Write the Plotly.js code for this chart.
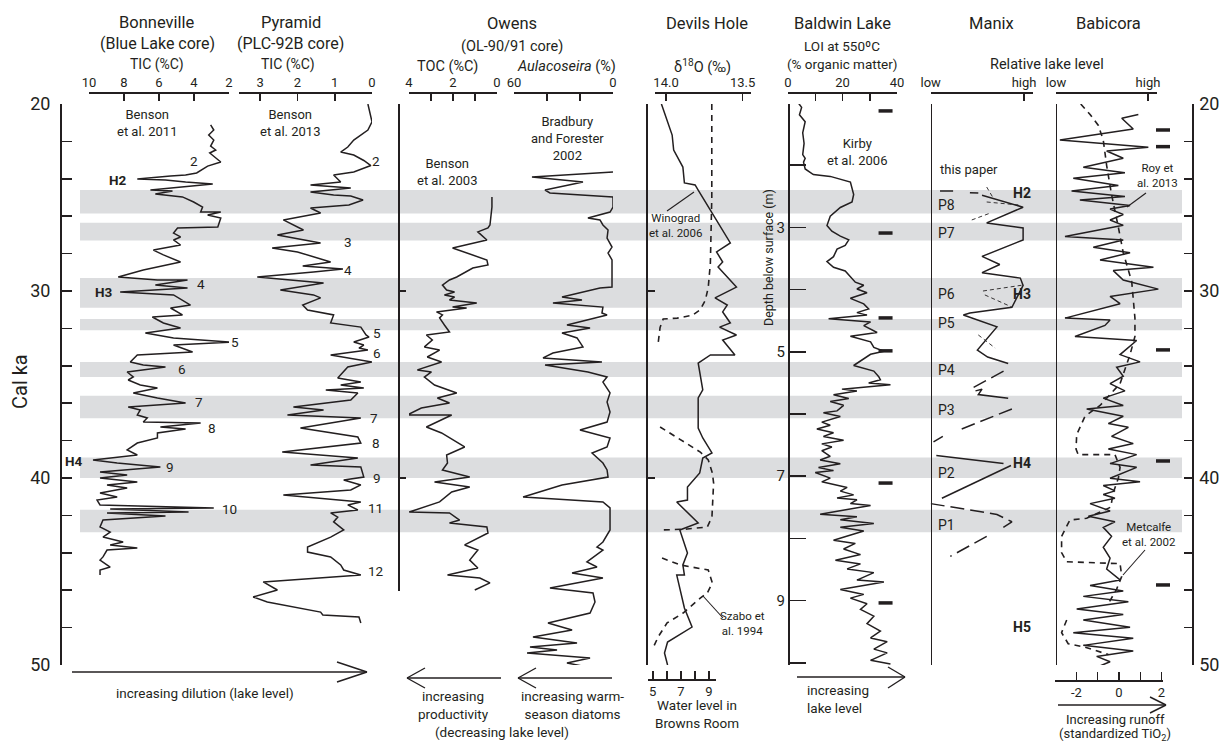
<!DOCTYPE html>
<html><head><meta charset="utf-8">
<script src="https://cdn.plot.ly/plotly-3.0.1.min.js"></script>
<style>html,body{margin:0;padding:0;background:#fff}#chart{width:1219px;height:743px}</style>
</head><body><div id="chart"></div>
<script>
// ---------------- DATA ----------------
const bandStartKa = [24.6, 26.35, 29.3, 31.5, 33.8, 35.6, 38.9, 41.7];
const bandEndKa   = [25.85, 27.3, 30.9, 32.1, 34.6, 36.8, 40.0, 42.9];

// Bonneville (Blue Lake core) TIC (%C)
const bonnevilleKa = [21.12,21.39,21.66,21.93,22.25,22.46,22.62,23.10,23.32,23.53,23.69,23.80,23.85,24.01,24.06,24.17,24.28,24.60,24.65,24.81,24.97,25.24,25.51,25.78,25.78,25.94,26.10,26.58,26.63,26.90,27.11,27.27,27.54,27.81,28.07,28.45,28.88,29.25,29.41,29.41,29.68,29.84,30.05,30.21,30.75,30.91,31.28,31.39,31.71,31.98,32.25,32.51,32.73,32.89,33.26,33.42,33.80,33.96,34.06,34.33,34.60,34.76,35.03,35.19,35.45,35.72,35.99,36.20,36.36,36.63,36.79,37.01,37.06,37.27,37.38,37.59,37.86,38.13,38.50,38.77,39.04,39.20,39.41,39.68,39.84,40.00,40.21,40.37,40.53,40.80,41.02,41.18,41.44,41.60,41.66,41.82,41.87,42.03,42.25,42.62,42.89,43.16,43.42,43.58,43.74,43.85,44.22,44.39,44.76,44.92,45.19];
const bonnevilleTIC = [3.05,2.87,3.16,2.87,3.05,2.76,3.10,2.47,3.22,3.56,3.85,4.48,5.34,7.24,5.63,4.48,2.93,6.49,5.23,6.21,4.66,4.02,3.51,3.62,2.47,3.22,2.47,2.64,4.94,5.17,4.77,5.17,4.77,6.32,5.75,4.77,6.90,8.33,6.09,4.37,6.21,4.37,8.22,5.17,4.20,5.34,4.66,6.38,5.75,4.77,6.78,5.17,1.90,5.17,4.08,7.24,7.64,6.90,5.63,7.82,7.47,7.76,7.07,6.09,7.47,6.09,4.48,7.76,7.07,7.24,6.67,6.90,3.62,5.92,4.48,6.09,6.09,7.24,7.82,7.24,9.77,8.39,5.92,9.37,7.82,9.37,7.24,8.97,7.82,9.37,8.39,9.54,9.37,2.87,8.79,4.31,8.97,5.63,9.20,9.37,8.79,9.20,8.05,8.79,7.24,8.97,9.20,9.37,8.79,9.37,9.37];

// Pyramid (PLC-92B core) TIC (%C)
const pyramidKa = [20.00,20.48,20.96,21.39,21.93,22.30,22.57,22.73,23.02,23.29,23.64,23.80,24.17,24.33,24.49,24.71,24.87,24.92,25.13,25.40,25.56,25.83,26.20,26.74,27.01,27.43,27.70,27.91,28.18,28.45,28.66,28.82,28.98,29.25,29.41,29.57,29.95,30.21,30.37,30.75,31.02,31.28,31.71,31.93,32.35,32.46,32.73,32.89,33.05,33.16,33.42,33.80,34.06,34.65,34.87,35.03,35.19,35.29,35.45,35.83,36.20,36.36,36.63,36.79,37.33,37.81,38.13,38.61,38.93,39.30,39.41,39.95,40.11,40.37,40.64,40.91,41.28,41.44,41.71,41.87,42.09,42.35,42.78,43.16,43.69,43.96,44.22,44.65,44.92,45.19,45.56,45.99,46.36,46.63,47.17,47.33,47.43,47.75];
const pyramidTIC = [0.11,0.05,0.00,0.11,0.49,0.65,0.84,0.49,0.22,0.03,0.49,1.03,0.84,1.65,0.57,1.65,1.03,0.57,0.24,0.62,1.65,1.38,2.38,1.84,2.54,1.38,2.68,2.00,1.57,1.11,1.86,0.78,1.57,3.08,2.19,1.30,2.46,1.57,1.38,1.86,1.73,1.03,1.11,0.30,0.16,0.08,0.49,0.22,0.35,0.11,1.11,0.00,0.65,0.92,0.30,0.84,0.22,1.24,0.38,0.57,2.11,1.30,2.27,0.30,1.92,0.38,0.30,2.41,0.38,1.65,0.30,0.22,0.76,0.30,0.57,2.38,0.30,0.65,0.38,1.11,0.92,1.03,0.76,1.11,1.73,1.73,1.11,0.84,0.76,0.30,2.92,2.54,3.19,2.81,1.38,1.32,0.35,0.30];

// Owens (OL-90/91 core) TOC (%C)
const owensTocKa = [24.97,25.51,26.47,26.63,26.84,27.27,27.70,28.34,28.61,28.77,29.25,29.41,29.68,29.95,30.05,30.21,30.32,30.48,30.64,30.86,30.91,31.12,31.28,31.44,31.82,32.19,32.35,32.62,32.99,33.16,33.53,33.80,34.22,34.33,34.60,35.03,35.45,35.72,35.99,36.26,36.63,36.63,37.27,37.59,38.34,38.77,39.20,39.57,39.95,40.21,40.48,40.75,41.28,41.82,41.87,42.25,42.41,42.62,42.94,43.58,43.85,44.39,44.81,45.19,45.35,45.61,45.99];
const owensToc = [0.23,0.23,0.32,0.41,0.87,0.46,2.02,0.46,0.41,1.10,1.83,2.16,2.48,2.29,1.93,2.39,1.93,2.16,0.92,2.02,1.38,2.75,2.48,2.61,2.39,2.16,3.21,2.94,3.30,2.61,3.17,2.52,3.62,2.98,3.30,2.84,1.83,2.71,2.16,3.44,4.08,2.06,3.21,2.52,1.47,2.29,2.25,2.48,1.24,2.84,1.24,2.06,2.61,3.99,2.16,1.70,2.16,0.46,0.41,1.47,0.87,1.24,0.87,2.25,0.78,0.32,1.01];

// Owens Aulacoseira (%)
const aulacoKa = [23.64,23.90,24.17,24.60,24.76,24.97,25.51,25.78,26.10,26.20,26.47,26.74,27.17,27.65,27.97,28.34,29.79,29.84,30.32,30.48,30.64,30.86,31.18,31.28,31.82,31.98,32.25,32.51,32.99,33.32,33.58,33.80,33.96,34.33,34.60,34.87,35.45,35.94,36.47,37.01,37.43,37.86,38.34,38.66,39.20,39.57,39.95,40.11,40.37,41.02,41.28,41.60,42.78,43.42,43.69,43.85,44.49,44.76,45.08,45.35,45.88,46.15,46.63,47.22,47.75,48.13,48.50,48.82,49.04,49.20,49.36,49.63,49.89,50.16];
const aulacoPct = [0,49.1,18.2,41.2,38.2,0,0,1.8,15.2,7.9,6.1,3.0,3.6,0.6,3.0,0.6,0.6,7.9,30.9,18.8,36.4,6.1,6.7,3.6,27.9,13.9,30.9,21.8,18.2,36.4,42.4,6.7,41.2,15.2,3.6,6.1,1.8,3.6,1.8,3.6,20.0,1.8,3.6,12.7,6.1,3.6,3.0,13.9,30.9,54.5,6.1,1.8,1.8,6.1,9.7,6.1,15.8,9.7,24.8,6.1,38.2,12.1,10.9,13.9,39.4,24.8,48.5,21.8,50.3,33.9,52.1,13.9,27.9,12.7];

// Devils Hole δ18O (‰)
const dhKa = [20.00,21.66,22.46,23.37,24.22,24.33,24.60,27.43,27.91,28.45,28.72,29.79,30.37,30.75,31.12,31.71,31.93,32.35,32.62,33.42,33.42,33.85,35.29,35.72,37.33,37.86,38.66,38.93,39.73,40.48,41.18,41.28,42.41,42.78,44.01,44.65,45.19,45.19,46.95,47.97,48.77,49.36,50.00];
const dhD18O = [14.03,13.96,13.95,13.89,13.88,13.81,13.79,13.58,13.67,13.63,13.66,13.54,13.68,13.60,13.63,13.58,13.65,13.54,13.63,13.55,13.71,13.79,13.76,13.79,13.79,13.76,13.70,13.76,13.78,13.86,13.86,13.93,13.79,13.91,13.86,13.89,13.88,13.93,13.88,13.83,13.99,14.01,13.99];

// Devils Hole water level in Browns Room (dashed; null = gap)
const wlKa = [20.0,25.0,28.5,29.8,30.5,31.0,31.3,31.45,31.5,31.95,32.8,null,37.27,38.61,39.04,39.73,40.27,42.09,42.62,42.73,42.78,null,44.28,44.65,44.92,45.61,46.15,46.42,47.22,47.75,48.50,49.09];
const wlLevel = [9.2,9.2,9.1,8.95,8.74,8.38,7.81,6.74,5.74,5.52,5.38,null,5.52,8.38,8.95,9.24,9.33,9.21,8.88,7.45,5.66,null,5.66,6.95,8.95,9.24,8.88,8.38,7.16,6.02,5.38,5.02];

// Baldwin Lake LOI (% organic matter) vs depth below surface (m)
const baldwinDepth = [1.00,1.07,1.19,1.30,1.48,1.65,1.83,1.89,1.95,2.06,2.15,2.18,2.27,2.47,2.59,2.68,2.82,2.97,3.06,3.14,3.20,3.29,3.35,3.47,3.55,3.64,3.70,3.79,3.88,3.93,3.99,4.05,4.14,4.23,4.31,4.37,4.41,4.47,4.52,4.58,4.69,4.75,4.84,4.93,4.99,5.04,5.22,5.31,5.40,5.45,5.50,5.53,5.60,5.63,5.69,5.75,5.80,5.86,5.95,5.98,6.04,6.13,6.18,6.24,6.30,6.36,6.42,6.48,6.53,6.59,6.68,6.74,6.80,6.86,6.91,6.94,7.03,7.09,7.18,7.24,7.30,7.35,7.38,7.44,7.47,7.61,7.65,7.70,7.76,7.82,7.88,8.03,8.08,8.17,8.26,8.35,8.41,8.49,8.55,8.67,8.70,8.82,8.90,8.96,9.05,9.14,9.25,9.37,9.49,9.60,9.66,9.78,9.84,9.96,10.02];
const baldwinLOI = [3.8,5.0,4.2,6.3,5.4,5.9,5.4,6.3,5.7,6.3,9.3,15.5,22.9,24.1,23.5,19.2,15.5,14.3,16.1,19.2,22.3,21.0,18.0,16.7,14.3,16.7,21.0,22.9,24.7,27.8,25.3,29.0,22.9,27.8,29.6,25.3,29.0,14.9,30.3,27.8,32.7,22.9,30.3,31.5,35.2,30.3,24.1,31.5,33.3,33.9,29.6,37.6,19.8,25.3,16.7,22.3,15.5,20.4,18.0,13.0,19.2,12.4,15.5,10.6,16.7,13.0,20.4,12.4,16.1,12.4,15.5,11.8,19.2,11.2,16.7,10.0,15.5,12.4,21.7,19.2,24.1,18.0,25.3,22.9,30.3,11.8,25.3,19.2,31.5,19.2,27.8,16.7,24.7,20.4,26.6,17.4,26.6,21.7,31.5,25.3,35.2,19.2,27.8,22.9,29.0,26.6,31.5,29.0,33.9,30.3,36.4,31.5,36.4,30.3,37.6];
const baldwinAgeKa = [20.37, 26.9, 31.44, 33.2, 40.27, 46.68];
const baldwinAgeLOI = [35.8, 35.8, 35.8, 35.8, 35.8, 35.8];

// Manix relative lake level (0 = low, 1 = high); null = gap
const manixSolidKa = [24.88,25.52,26.36,26.63,27.27,28.15,28.58,29.02,29.31,29.70,30.87,31.18,31.28,31.92,33.16,33.53,33.88,null,35.34,35.25,35.54,35.73,null,38.80,39.23,null,39.33,41.08];
const manixSolidLvl = [0.55,0.99,0.60,0.99,0.99,0.55,0.74,0.55,0.96,0.99,0.87,0.42,0.35,0.71,0.50,0.61,0.83,null,0.48,0.55,0.51,0.83,null,0.06,0.78,null,0.86,0.12];
const manixDashKa = [24.65,24.65,null,24.74,24.76,null,35.15,34.18,null,36.31,37.48,null,37.77,38.07,null,41.37,41.95,42.34,42.73,null,43.12,44.19];
const manixDashLvl = [0.10,0.24,null,0.42,0.51,null,0.46,0.82,null,0.87,0.28,null,0.13,0.03,null,0.00,0.71,0.87,0.75,null,0.60,0.21];
const manixThinKa = [24.44,25.03,null,25.24,25.40,null,26.20,25.83,null,30.0,29.68,null,30.21,30.86,null,32.35,33.05];
const manixThinLvl = [0.60,0.67,null,0.60,0.94,null,0.44,0.64,null,0.56,0.99,null,0.58,0.87,null,0.51,0.69];

// Babicora standardized TiO2 (solid) and lake level (dashed)
const babicoraKa = [20.56,20.76,21.34,21.93,22.31,22.51,22.90,23.38,23.68,23.97,24.36,24.65,24.94,25.13,25.43,25.62,25.91,26.20,26.49,27.08,27.27,27.66,27.95,28.34,28.73,28.91,29.41,29.90,30.29,30.68,31.45,31.55,31.84,32.43,32.65,33.40,33.79,34.08,34.56,34.95,35.34,35.73,36.12,36.31,36.70,37.09,37.29,37.77,38.16,38.45,38.75,39.23,39.43,40.01,40.20,40.40,40.69,40.88,41.08,41.37,41.76,42.05,42.34,42.64,43.12,43.70,44.29,44.87,45.45,45.75,46.04,46.33,46.62,47.01,47.30,47.59,47.98,48.27,48.57,48.95,49.25,49.54,49.83,50.12];
const babicoraTiO2 = [0.91,0.13,0.67,-2.78,1.38,-0.58,0.20,-1.68,0.28,-2.15,-0.03,-2.23,0.28,-1.84,0.52,-0.42,0.20,-0.42,0.20,-2.54,0.20,-1.21,0.52,-0.89,1.62,-0.27,0.20,1.85,-0.42,0.05,-2.54,-0.42,-0.66,-2.07,0.83,0.05,0.99,-0.11,0.20,-0.42,0.28,-0.74,0.20,-1.52,0.20,-0.50,0.44,-0.35,0.67,-0.50,0.83,-0.42,0.83,-0.42,0.99,-0.74,-0.19,-0.74,-0.19,-1.36,-0.42,-1.44,-0.19,-0.74,-0.35,-0.74,-0.42,-0.58,0.05,-1.36,0.20,-1.68,0.44,-1.99,0.20,-1.68,0.52,-2.15,0.67,-1.68,0.67,-1.05,-0.42,-1.05];
const babicoraDashKa = [20.0,20.56,21.15,21.93,23.29,24.84,26.59,27.95,29.51,31.45,32.43,33.40,34.95,36.12,36.70,37.68,38.45,38.75,38.75,39.43,40.01,40.79,41.56,42.15,42.25,43.12,43.99,44.48,44.58,45.26,45.94,46.72,null,47.59,48.27,48.86,49.05,49.44];
const babicoraDashVal = [-1.80,-1.36,-0.97,-0.74,-0.58,-0.35,-0.03,0.20,0.60,0.75,0.75,0.52,0.05,-0.89,-1.60,-1.99,-2.02,-1.92,-0.19,0.05,-0.03,-0.27,-0.39,-1.52,-2.31,-2.70,-2.70,-2.46,0.05,0.13,-0.11,-0.50,null,-2.46,-2.70,-2.39,-1.60,-0.50];
const babicoraAgeKa = [21.39, 22.28, 33.15, 39.09, 45.72];
const babicoraAgeVal = [2.07, 2.07, 2.07, 2.07, 2.07];

// ---------------- LAYOUT HELPERS ----------------
const W = 1219, H = 743;
const INK = '#231f20';
const FONT = 'Roboto, "Liberation Sans", Arial, sans-serif';
const px = x => x / W;
const py = y => 1 - y / H;

function topAxis(x0, x1, range, tickvals, ticktext) {
  return {domain:[px(x0), px(x1)], range, anchor:'free', position:py(92), side:'top',
    showline:true, linecolor:INK, linewidth:1.6, ticks:'inside', ticklen:7, tickwidth:1.5, tickcolor:INK,
    tickmode:'array', tickvals, ticktext, tickfont:{size:13, color:INK, family:FONT},
    showgrid:false, zeroline:false, fixedrange:true};
}
function bottomAxis(x0, x1, yPix, range, tickvals, ticktext) {
  return {domain:[px(x0), px(x1)], range, anchor:'free', position:py(yPix), side:'bottom',
    showline:true, linecolor:INK, linewidth:1.6, ticks:'inside', ticklen:8, tickwidth:1.5, tickcolor:INK,
    tickmode:'array', tickvals, ticktext, tickfont:{size:13, color:INK, family:FONT},
    showgrid:false, zeroline:false, fixedrange:true};
}
function lineAxis(xPix, extra) {
  return Object.assign({anchor:'free', position:px(xPix), side:'left', showline:true, linecolor:INK, linewidth:1.6,
    showgrid:false, zeroline:false, showticklabels:false, ticks:'', fixedrange:true}, extra);
}

const yDomain = [py(665), py(104)];

const layout = {
  width: W, height: H, autosize:false,
  margin:{l:0, r:0, t:0, b:0, pad:0},
  paper_bgcolor:'#ffffff', plot_bgcolor:'rgba(0,0,0,0)',
  showlegend:false,
  font:{family:FONT, color:INK},
  xaxis:  topAxis(89, 229, [10, 2], [10,8,6,4,2], ['10','8','6','4','2']),
  xaxis2: topAxis(239, 372, [3.57, 0], [3,2,1,0], ['3','2','1','0']),
  xaxis3: topAxis(409, 497, [4, 0], [4,3,2,1,0], ['4','','2','','0']),
  xaxis4: topAxis(514, 613, [60, 0], [60,40,20,0], ['60','','','0']),
  xaxis5: topAxis(655, 751, [14.072, 13.445], [14.0, 13.5], ['14.0','13.5']),
  xaxis6: bottomAxis(648, 716, 679, [4.66, 9.5], [5,6,7,8,9], ['5','','7','','9']),
  xaxis7: topAxis(788, 897, [0, 40], [0,10,20,30,40], ['0','','20','','40']),
  xaxis8: topAxis(930.7, 1033, [0, 1.096], [0, 1], ['low','high']),
  xaxis9: topAxis(1056, 1157, [0, 1.098], [0, 1], ['low','high']),
  xaxis10: bottomAxis(1055, 1163, 680, [-3.01, 2.07], [-3,-2,-1,0,1,2], ['','-2','','0','','2']),
  yaxis: {domain:yDomain, range:[50, 20], anchor:'free', position:px(60), side:'left',
    showline:true, linecolor:INK, linewidth:1.8, ticks:'inside', ticklen:10, tickwidth:1.6, tickcolor:INK,
    tick0:20, dtick:10, minor:{dtick:2, ticks:'inside', ticklen:10, tickwidth:1.6, tickcolor:INK},
    tickfont:{size:18, color:INK, family:FONT}, ticklabelstandoff:6,
    showgrid:false, zeroline:false, fixedrange:true},
  yaxis2: {overlaying:'y', range:[10.035, 1.016], anchor:'free', position:px(788), side:'left',
    showline:true, linecolor:INK, linewidth:1.8, ticks:'inside', ticklen:16, tickwidth:1.6, tickcolor:INK,
    tickmode:'array', tickvals:[1,2,3,4,5,6,7,8,9,10], ticktext:['1','','3','','5','','7','','9',''],
    tickfont:{size:15, color:INK, family:FONT}, showgrid:false, zeroline:false, fixedrange:true},
  yaxis3: {overlaying:'y', range:[50, 20], anchor:'free', position:px(1192), side:'right',
    showline:true, linecolor:INK, linewidth:1.6, ticks:'inside', ticklen:8, tickwidth:1.5, tickcolor:INK,
    tick0:20, dtick:10, minor:{dtick:2, ticks:'inside', ticklen:8, tickwidth:1.5, tickcolor:INK},
    tickfont:{size:18, color:INK, family:FONT}, ticklabelstandoff:2,
    showgrid:false, zeroline:false, fixedrange:true},
  yaxis4: lineAxis(398, {domain:[py(591), py(104)], range:[46.04, 20], ticks:'inside', ticklen:6, tickwidth:1.5, tickcolor:INK, tickmode:'array', tickvals:[20,30,40]}),
  yaxis5: lineAxis(646, {overlaying:'y', range:[50, 20], ticks:'inside', ticklen:7, tickwidth:1.5, tickcolor:INK, tickmode:'array', tickvals:[20,30,40,50]}),
  yaxis6: lineAxis(930.5, {overlaying:'y', range:[50, 20]}),
  yaxis7: lineAxis(1055.5, {overlaying:'y', range:[50, 20]}),
  shapes: [],
  annotations: []
};

// grey bands
bandStartKa.forEach((s, i) => {
  layout.shapes.push({type:'rect', xref:'paper', yref:'y', x0:px(80), x1:px(1182), y0:s, y1:bandEndKa[i],
    fillcolor:'#dcdddf', line:{width:0}, layer:'below'});
});

function seg(x0, y0, x1, y1, w) {
  layout.shapes.push({type:'line', xref:'paper', yref:'paper', x0:px(x0), y0:py(y0), x1:px(x1), y1:py(y1),
    line:{color:INK, width:w || 1.4}});
}
// bottom arrows
seg(72, 672, 367, 672); seg(337, 662, 367, 672); seg(337, 682, 367, 672);
seg(501, 678, 407, 678); seg(425, 668, 407, 678); seg(425, 688, 407, 678);
seg(612, 678, 518, 678); seg(536, 668, 518, 678); seg(536, 688, 518, 678);
seg(797, 677, 905, 677); seg(888, 667, 905, 677); seg(888, 688, 905, 677);
seg(1058, 705, 1166, 705); seg(1150, 697, 1166, 705); seg(1150, 713, 1166, 705);
// leader lines
seg(667, 211, 694, 192, 1.1);
seg(723, 618, 703, 596, 1.1);
seg(1146, 193, 1127, 207, 1.1);
seg(1145, 550, 1123, 575, 1.1);

function ann(text, x, y, size, opts) {
  layout.annotations.push(Object.assign({text, xref:'paper', yref:'paper', x:px(x), y:py(y),
    xanchor:'center', yanchor:'middle', showarrow:false, font:{size, color:INK, family:FONT}}, opts || {}));
}
// headers
ann('Bonneville', 157, 23, 16.5); ann('(Blue Lake core)', 157, 44, 16); ann('TIC (%C)', 157, 64, 14);
ann('Pyramid', 291, 23, 16.5); ann('(PLC-92B core)', 290, 44, 16); ann('TIC (%C)', 288, 64, 14);
ann('Owens', 512, 24, 16.5); ann('(OL-90/91 core)', 512, 46, 14.5);
ann('TOC (%C)', 447, 66, 14.5); ann('<i>Aulacoseira</i> (%)', 566, 66, 14.5);
ann('Devils Hole', 707, 24, 16.5); ann('δ<sup>18</sup>O (‰)', 702, 66, 14.5);
ann('Baldwin Lake', 842, 24, 16.5); ann('LOI at 550ºC', 842, 46, 13.5); ann('(% organic matter)', 842, 64, 13.5);
ann('Manix', 991, 24, 16.5); ann('Relative lake level', 1047, 64, 14.5);
ann('Babicora', 1108, 24, 16.5);
// in-panel citations
ann('Benson<br>et al. 2011', 147, 123, 13);
ann('Benson<br>et al. 2013', 290, 123, 13);
ann('Benson<br>et al. 2003', 447, 172, 13);
ann('Bradbury<br>and Forester<br>2002', 567, 138, 13);
ann('Winograd<br>et al. 2006', 676, 225, 11.5);
ann('Szabo et<br>al. 1994', 742, 623, 11.5);
ann('Kirby<br>et al. 2006', 857, 152, 13);
ann('this paper', 969, 169, 13);
ann('Roy et<br>al. 2013', 1157, 176, 11.5);
ann('Metcalfe<br>et al. 2002', 1149, 534, 11.5);
// Bonneville labels
[['2',194,161],['4',201,284],['5',235,342],['6',182,369],['7',199,402],['8',212,428],['9',170,467],['10',229,509]]
  .forEach(a => ann(a[0], a[1], a[2], 13.5));
[['H2',118,180],['H3',104,292],['H4',74,461]].forEach(a => ann('<b>'+a[0]+'</b>', a[1], a[2], 13.5));
// Pyramid labels
[['2',376,161],['3',348,242],['4',348,270],['5',377,333],['6',377,353],['7',374,418],['8',376,443],['9',377,478],['11',375,508],['12',376,571]]
  .forEach(a => ann(a[0], a[1], a[2], 13.5));
// Manix labels
[['P8',205],['P7',233],['P6',294],['P5',323],['P4',370],['P3',410],['P2',473],['P1',525]].forEach(a => ann(a[0], 946, a[1], 14));
[['H2',193],['H3',294],['H4',463],['H5',627]].forEach(a => ann('<b>'+a[0]+'</b>', 1022, a[1], 14));
// bottom captions
ann('increasing dilution (lake level)', 205, 693, 13.5);
ann('increasing<br>productivity', 453, 705, 13.5);
ann('(decreasing lake level)', 502, 732, 13.5);
ann('increasing warm-<br>season diatoms', 572, 705, 13.5);
ann('Water level in<br>Browns Room', 697, 714, 13.5);
ann('increasing<br>lake level', 805, 699, 13.5, {xanchor:'left', align:'left'});
ann('Increasing runoff', 1115, 719, 13);
ann('(standardized TiO<sub>2</sub>)', 1115, 734, 13);
// rotated axis titles
ann('Cal ka', 20, 382, 20, {textangle:-90});
ann('Depth below surface (m)', 768, 258, 12.5, {textangle:-90});

// ---------------- TRACES ----------------
const L = (x, y, xa, ya, extra) => Object.assign({type:'scatter', mode:'lines', x, y, xaxis:xa, yaxis:ya,
  line:{color:INK, width:1.5}, hoverinfo:'skip', connectgaps:false}, extra || {});

const traces = [
  L(bonnevilleTIC, bonnevilleKa, 'x', 'y'),
  L(pyramidTIC, pyramidKa, 'x2', 'y'),
  L(owensToc, owensTocKa, 'x3', 'y'),
  L(aulacoPct, aulacoKa, 'x4', 'y'),
  L(dhD18O, dhKa, 'x5', 'y'),
  L(wlLevel, wlKa, 'x6', 'y', {line:{color:INK, width:1.6, dash:'6px,5px'}}),
  L(baldwinLOI, baldwinDepth, 'x7', 'y2'),
  {type:'scatter', mode:'markers', x:baldwinAgeLOI, y:baldwinAgeKa, xaxis:'x7', yaxis:'y', cliponaxis:false,
    marker:{symbol:'line-ew', size:10, line:{color:INK, width:3.5}}, hoverinfo:'skip'},
  L(manixSolidLvl, manixSolidKa, 'x8', 'y'),
  L(manixDashLvl, manixDashKa, 'x8', 'y', {line:{color:INK, width:1.5, dash:'14px,6px'}}),
  L(manixThinLvl, manixThinKa, 'x8', 'y', {line:{color:INK, width:0.9, dash:'4px,3px'}}),
  L(babicoraTiO2, babicoraKa, 'x10', 'y'),
  L(babicoraDashVal, babicoraDashKa, 'x10', 'y', {line:{color:INK, width:1.6, dash:'6px,5px'}}),
  {type:'scatter', mode:'markers', x:babicoraAgeVal, y:babicoraAgeKa, xaxis:'x10', yaxis:'y', cliponaxis:false,
    marker:{symbol:'line-ew', size:10, line:{color:INK, width:3.5}}, hoverinfo:'skip'},
  // empty traces so that the stand-alone axes are drawn
  {type:'scatter', mode:'lines', x:[null], y:[null], xaxis:'x9', yaxis:'y7', hoverinfo:'skip'},
  {type:'scatter', mode:'lines', x:[null], y:[null], xaxis:'x3', yaxis:'y4', hoverinfo:'skip'},
  {type:'scatter', mode:'lines', x:[null], y:[null], xaxis:'x5', yaxis:'y5', hoverinfo:'skip'},
  {type:'scatter', mode:'lines', x:[null], y:[null], xaxis:'x8', yaxis:'y6', hoverinfo:'skip'},
  {type:'scatter', mode:'lines', x:[null], y:[null], xaxis:'x10', yaxis:'y3', hoverinfo:'skip'}
];

Plotly.newPlot('chart', traces, layout, {staticPlot:true, displayModeBar:false});
</script>
</body></html>
